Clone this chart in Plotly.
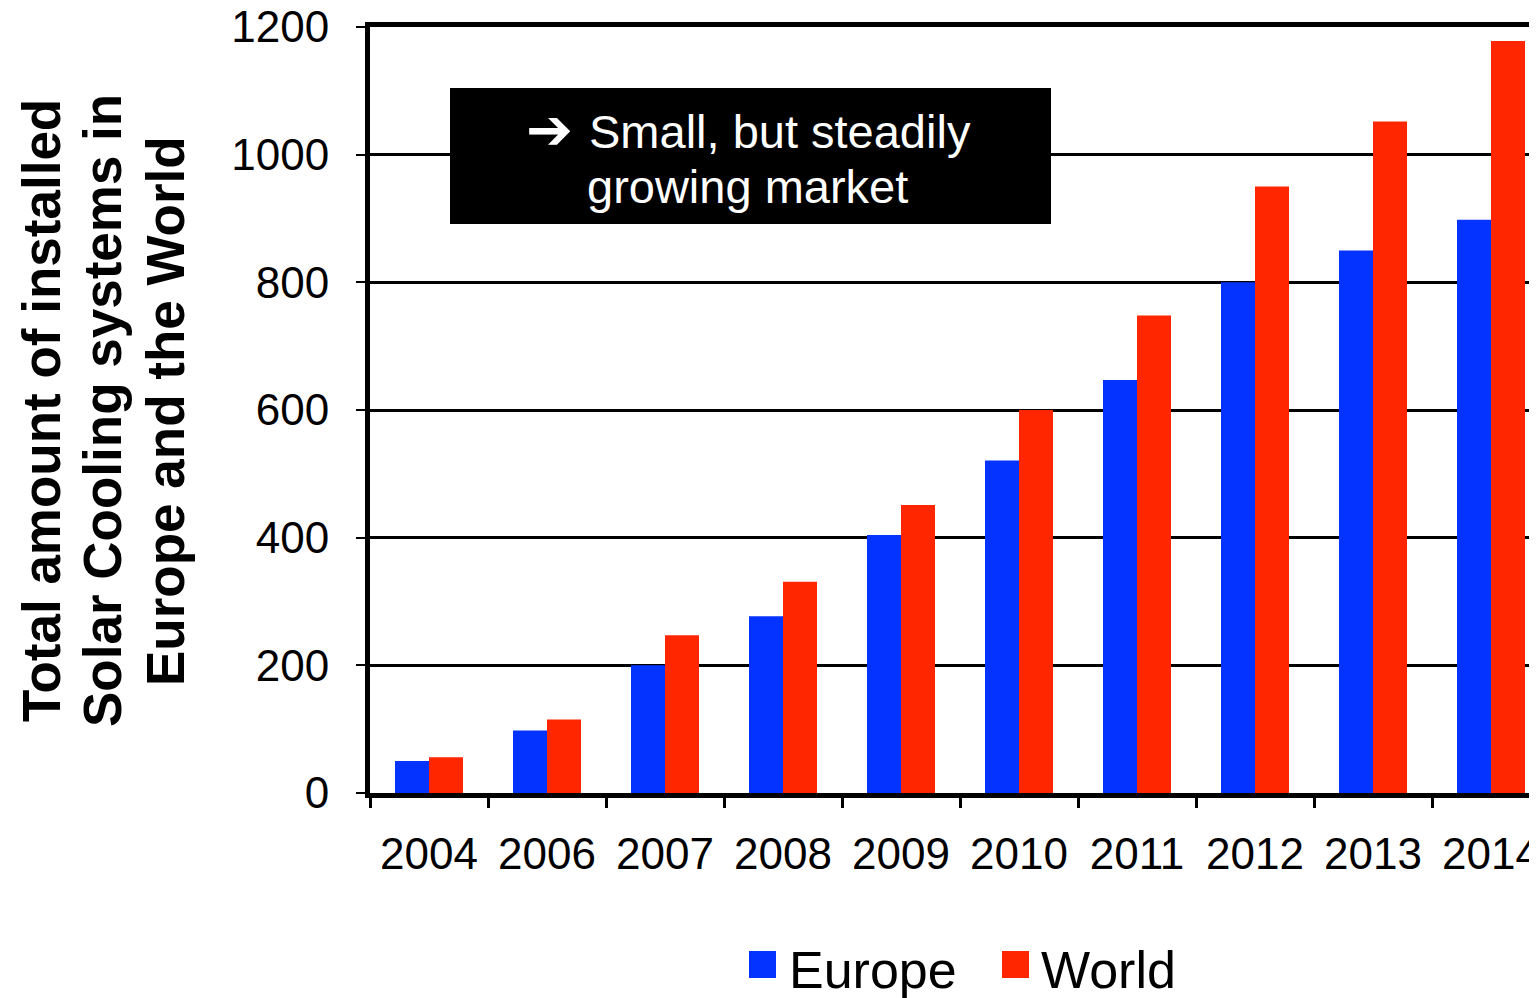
import plotly.graph_objects as go

# ---- data ----
years = ["2004", "2006", "2007", "2008", "2009", "2010", "2011", "2012", "2013", "2014"]
europe = [50, 98, 200, 277, 404, 521, 647, 800, 850, 898]
world = [56, 115, 247, 331, 451, 600, 748, 950, 1052, 1178]
series_names = ["Europe", "World"]
y_ticks = [0, 200, 400, 600, 800, 1000, 1200]

BLUE = "#0433FF"
RED = "#FF2600"
FONT = "Liberation Sans, Arial, Helvetica, sans-serif"

OFF = 8  # page body margin
W, H = 1537, 998
L, T = 370 - OFF, 27 - OFF
PLOT_BOTTOM = 793 - OFF
R = OFF
B = H - PLOT_BOTTOM
PW, PH = W - L - R, H - T - B
CAT_PX = 118.0


def px(x):
    return (x - OFF - L) / PW


def py(y):
    return (PLOT_BOTTOM - (y - OFF)) / PH


fig = go.Figure()
fig.add_trace(go.Bar(name=series_names[0], x=years, y=europe, marker=dict(color=BLUE, line=dict(width=0)), showlegend=False))
fig.add_trace(go.Bar(name=series_names[1], x=years, y=world, marker=dict(color=RED, line=dict(width=0)), showlegend=False))

fig.update_layout(
    width=W, height=H,
    margin=dict(l=L, r=R, t=T, b=B, pad=0, autoexpand=False),
    paper_bgcolor="white", plot_bgcolor="white",
    barmode="group", bargap=1 - 68 / 118, bargroupgap=0,
    font=dict(family=FONT, color="black"),
)
fig.update_xaxes(
    type="category", range=[-0.5, -0.5 + PW / CAT_PX], automargin=False,
    showline=True, linecolor="black", linewidth=5, mirror=True,
    ticks="outside", tickson="boundaries", ticklen=10, tickwidth=3, tickcolor="black",
    tickfont=dict(size=44, family=FONT, color="black"), ticklabelstandoff=18,
    ticklabeloverflow="allow", showgrid=False,
)
fig.update_yaxes(
    range=[0, 1200], tickvals=y_ticks, automargin=False,
    showline=True, linecolor="black", linewidth=5,
    ticks="outside", ticklen=9, tickwidth=2, tickcolor="black",
    tickfont=dict(size=44, family=FONT, color="black"), ticklabelstandoff=18,
    ticklabeloverflow="allow",
    showgrid=True, gridcolor="black", gridwidth=2.5, zeroline=False,
)

# y-axis title (three lines)
title_lines = ["Total amount of installed", "Solar Cooling systems in", "Europe and the World"]
title_x = [41, 102, 165]
for t, x in zip(title_lines, title_x):
    fig.add_annotation(text="<b>%s</b>" % t, textangle=-90, xref="paper", yref="paper",
                       x=px(x), y=py(411), xanchor="center", yanchor="middle", showarrow=False,
                       font=dict(size=53, family=FONT, color="black"))

# callout box
fig.add_shape(type="rect", xref="paper", yref="paper", x0=px(450), x1=px(1051), y0=py(224), y1=py(88),
              fillcolor="black", line=dict(width=0), layer="above")
fig.add_annotation(text="<b>➔</b>", xref="paper", yref="paper", x=px(549), y=py(129), xanchor="center", yanchor="middle",
                   showarrow=False, font=dict(size=56, family="DejaVu Sans", color="white"))
fig.add_annotation(text="Small, but steadily", xref="paper", yref="paper", x=px(587), y=py(131),
                   xanchor="left", yanchor="middle", showarrow=False, font=dict(size=47, family=FONT, color="white"))
fig.add_annotation(text="growing market", xref="paper", yref="paper", x=px(585), y=py(186),
                   xanchor="left", yanchor="middle", showarrow=False, font=dict(size=47, family=FONT, color="white"))

# legend (drawn manually for large swatches)
leg = [(series_names[0], BLUE, 749, 787), (series_names[1], RED, 1002, 1039)]
for name, col, sx, tx in leg:
    fig.add_shape(type="rect", xref="paper", yref="paper", x0=px(sx), x1=px(sx + 27), y0=py(978), y1=py(951),
                  fillcolor=col, line=dict(width=0))
    fig.add_annotation(text=name, xref="paper", yref="paper", x=px(tx), y=py(970), xanchor="left", yanchor="middle",
                       showarrow=False, font=dict(size=52, family=FONT, color="black"))

fig.write_html("out.html")
